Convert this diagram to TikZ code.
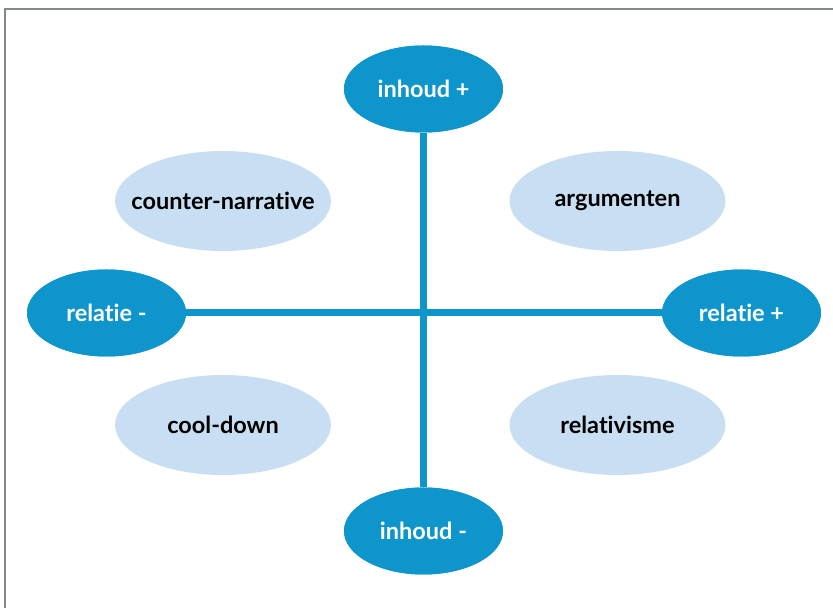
\documentclass[tikz,border=0pt]{standalone}
\usepackage{fontspec}
\setmainfont{Lato}[Ligatures={NoCommon}]
\usetikzlibrary{shapes.geometric}
\definecolor{darkb}{RGB}{14,150,204}
\definecolor{lightb}{RGB}{200,223,243}
\definecolor{frame}{RGB}{127,137,142}
\newcommand{\zw}[1]{\makebox[0pt]{#1}}
\tikzset{
  x=1pt,y=1pt,
  dark/.style={ellipse,fill=darkb,minimum width=159pt,minimum height=87pt,inner sep=0pt,text=white,font=\fontsize{23.5}{26}\selectfont\bfseries},
  light/.style={ellipse,fill=lightb,minimum width=216pt,minimum height=100pt,inner sep=0pt,text=black,font=\fontsize{23.5}{26}\selectfont\bfseries},
  axis/.style={draw=darkb,line width=7pt}
}
\begin{document}
\begin{tikzpicture}
\useasboundingbox (0,0) rectangle (833,608);
\draw[frame,line width=2pt] (5,0) -- (5,599) -- (833,599);
\node[dark] (ip) at (423.5,519) {\zw{inhoud +}};
\node[dark] (im) at (423.5,77) {\zw{inhoud -}};
\node[dark] (rm) at (106.5,295) {\zw{relatie -}};
\node[dark] (rp) at (741.5,295) {\zw{relatie +}};
\draw[axis] (ip.south) -- (im.north);
\draw[axis] (rm.east) -- (rp.west);
\node[dark] at (423.5,519) {\zw{inhoud +}};
\node[dark] at (423.5,77) {\zw{inhoud -}};
\node[dark] at (106.5,295) {\zw{relatie -}};
\node[dark] at (741.5,295) {\zw{relatie +}};
\node[light] (cn) at (223,407) {\zw{counter-narrative}};
\node[light] (ar) at (617.5,407) {\zw{argumenten}};
\node[light] (cd) at (223,183) {\zw{cool-down}};
\node[light] (re) at (617.5,183) {\zw{relativisme}};
\end{tikzpicture}
\end{document}
